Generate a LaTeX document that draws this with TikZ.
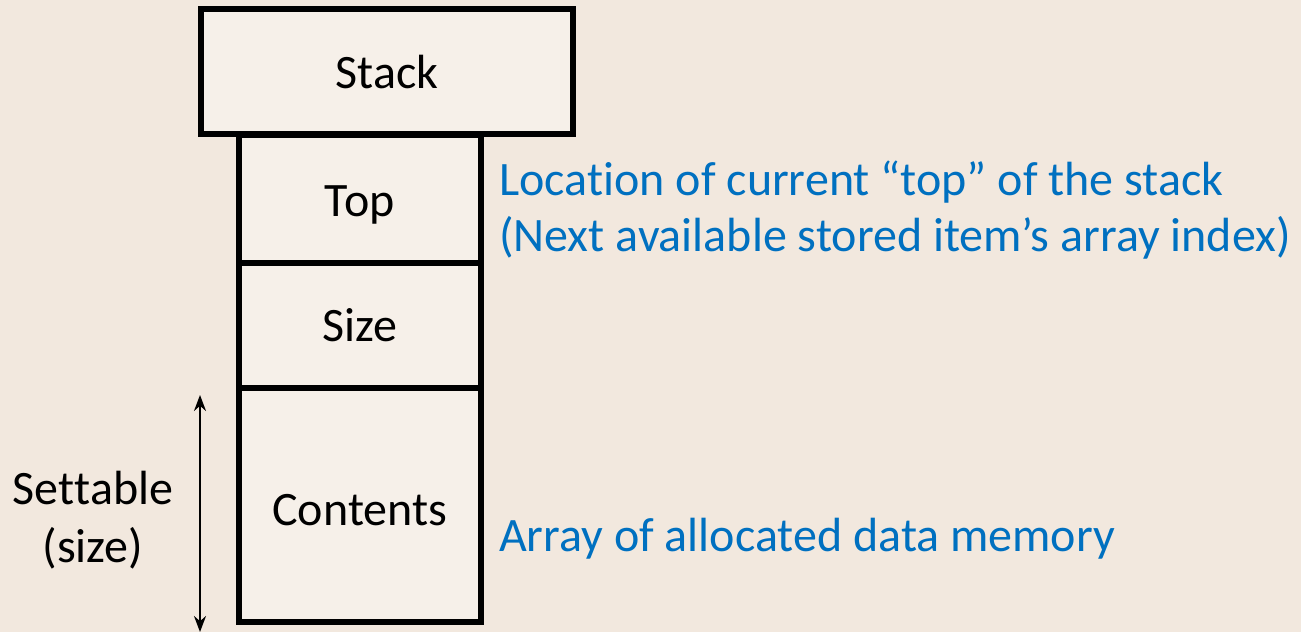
\documentclass[tikz,border=0pt]{standalone}
\usepackage{fontspec}
\setmainfont{Carlito}[Ligatures=NoCommon]
\usetikzlibrary{arrows.meta}
\definecolor{bgbeige}{RGB}{242,232,222}
\definecolor{lblblue}{RGB}{0,112,192}
\tikzset{
  cell/.style={draw=black, line width=6pt, fill=white, fill opacity=0.35, text opacity=1,
    inner sep=0pt, font=\fontsize{48}{57}\selectfont},
  note/.style={text=lblblue, anchor=west, align=left, inner sep=0pt, font=\fontsize{48}{56}\selectfont},
  side/.style={text=black, align=center, inner sep=0pt, font=\fontsize{48}{58}\selectfont},
  dim/.style={line width=2pt, {Stealth[length=16pt,width=12pt]}-{Stealth[length=16pt,width=12pt]}}
}
\begin{document}
\begin{tikzpicture}[x=1pt,y=1pt]
\fill[bgbeige] (0,0) rectangle (1301,632);
\useasboundingbox (0,0) rectangle (1301,632);
\node[cell, minimum width=372pt, minimum height=125pt] (stack) at (387,560) {Stack};
\node[cell, minimum width=242.5pt, minimum height=128pt] (top) at (359.75,433) {\rule{0pt}{42pt}Top};
\node[cell, minimum width=242.5pt, minimum height=125pt] (size) at (359.75,306.5) {Size};
\node[cell, minimum width=242.5pt, minimum height=234pt] (contents) at (359.75,127) {\rule{0pt}{42pt}Contents};
\node[note] (topnote) at (499,422) {Loca\kern0pt tion of current “top” of the stack\\(Next available stored item’s array index)};
\node[note] (arraynote) at (499,93) {Array of allocated data memory};
\node[side] (settable) at (93,112) {Set\kern0pt table\\(size)};
\coordinate (arrtop) at (200,237);
\coordinate (arrbot) at (200,0);
\draw[dim] (arrtop) -- (arrbot);
\end{tikzpicture}
\end{document}
